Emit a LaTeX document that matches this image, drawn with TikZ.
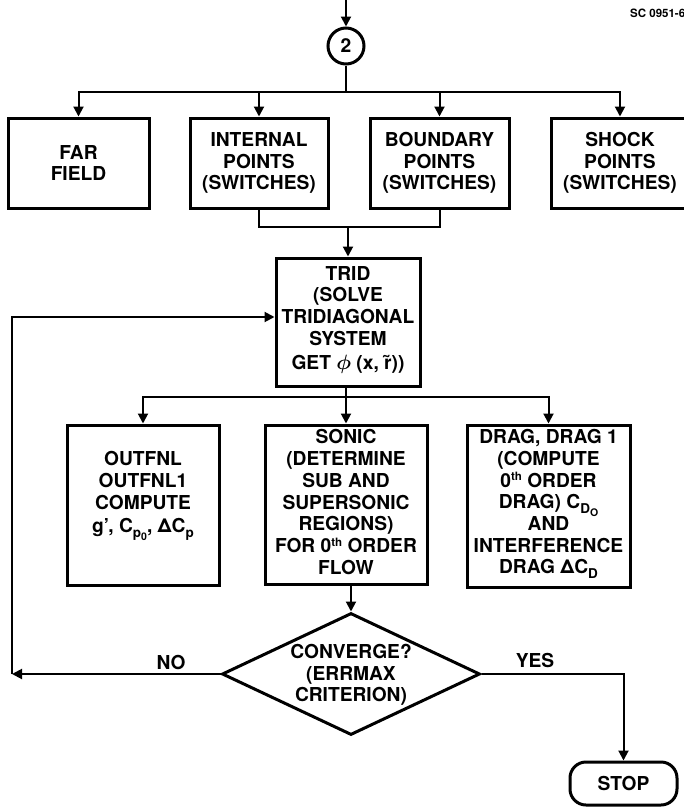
\documentclass[tikz,border=0pt]{standalone}
\usepackage{fontspec}
\setmainfont{TeX Gyre Heros}
\usetikzlibrary{arrows.meta,shapes.geometric}
\newcommand{\flowfont}{\fontsize{19.2}{21.7}\selectfont\bfseries}
\newcommand{\lsub}[1]{\raisebox{-0.45ex}{\fontsize{13.5}{13.5}\selectfont #1}}
\newcommand{\lsubb}[1]{\raisebox{-0.35ex}{\fontsize{10.5}{10.5}\selectfont #1}}
\newcommand{\lsup}[1]{\raisebox{0.6ex}{\fontsize{11.5}{11.5}\selectfont #1}}
\begin{document}
\begin{tikzpicture}[x=1pt,y=-1pt,
  box/.style={draw,line width=3pt,inner sep=0pt,align=center,font=\flowfont,minimum height=90pt},
  txt/.style={align=center,font=\flowfont,inner sep=0pt},
  conn/.style={line width=2pt},
  arr/.style={line width=2pt,-{Triangle[length=10pt,width=10pt]}}]
\useasboundingbox (0,0) rectangle (684,807);
% header
\node[anchor=west,font=\fontsize{11.5}{11.5}\selectfont\bfseries,inner sep=0pt] (sc) at (630,13) {SC 0951-6};
\coordinate (top) at (346,0);
\node[draw,circle,line width=3pt,minimum size=36pt,inner sep=0pt,font=\flowfont] (c2) at (346,46) {2};
\draw[arr] (top) -- (c2);
% first row
\node[box,minimum width=141pt] (far) at (78.5,163) {FAR\\FIELD};
\node[box,minimum width=138pt] (int) at (259,163) {INTERNAL\\POINTS\\(SWITCHES)};
\node[box,minimum width=139pt] (bnd) at (439.5,163) {BOUNDARY\\POINTS\\(SWITCHES)};
\node[box,minimum width=138pt] (shk) at (620,163) {SHOCK\\POINTS\\(SWITCHES)};
\coordinate (s1) at (346,92);
\draw[conn] (c2) -- (s1);
\draw[arr] (s1) -| (far.north);
\draw[arr] (s1) -| (int.north);
\draw[arr] (s1) -| (bnd.north);
\draw[arr] (s1) -| (shk.north);
% TRID
\node[box,minimum width=144pt,minimum height=128pt] (trid) at (348,322) {};
\node[txt] (tridt) at (348,320) {TRID\\(SOLVE\\TRIDIAGONAL\\SYSTEM\\[3pt]GET {\boldmath$\phi$} (x, \~{r}))};
\coordinate (j1) at (348,227);
\draw[conn] (int.south) |- (j1) -| (bnd.south);
\draw[arr] (j1) -- (trid.north);
% second row
\node[box,minimum width=152pt,minimum height=160pt] (out) at (143,505) {};
\node[txt] (outt) at (143,496) {OUTFNL\\OUTFNL1\\COMPUTE\\[2pt]g', C\lsub{p\lsubb{0}}, ΔC\lsub{p}};
\node[box,minimum width=162pt,minimum height=159pt] (son) at (346,504.5) {};
\node[txt] (sont) at (346,502) {SONIC\\(DETERMINE\\SUB AND\\SUPERSONIC\\REGIONS)\\FOR 0\lsup{th} ORDER\\FLOW};
\node[box,minimum width=163pt,minimum height=162pt] (drg) at (548.5,506) {};
\node[txt] (drgt) at (548.5,504) {DRAG, DRAG 1\\(COMPUTE\\0\lsup{th} ORDER\\DRAG) C\lsub{D\lsubb{O}}\\AND\\INTERFERENCE\\DRAG ΔC\lsub{D}};
\coordinate (s2) at (346,397);
\draw[conn] (trid.south -| s2) -- (s2);
\draw[arr] (s2) -- (son.north);
\draw[arr] (s2) -| (out.north);
\draw[arr] (s2) -| (drg.north);
% decision
\node[draw,diamond,line width=3pt,minimum width=258pt,minimum height=122pt,inner sep=0pt] (conv) at (351,674) {};
\node[txt] (convt) at (351,675) {CONVERGE?\\(ERRMAX\\CRITERION)};
\draw[arr] (son.south -| conv.north) -- (conv.north);
% NO loop
\coordinate (lp0) at (12,674);
\coordinate (lp1) at (12,317);
\draw[arr] (conv.west) -- (lp0);
\draw[arr] (lp0) -- (lp1) -- (lp1 -| trid.west);
\node[txt] (no) at (171,662) {NO};
% YES
\node[draw,line width=3pt,rounded corners=16pt,minimum width=107pt,minimum height=43pt,inner sep=0pt,font=\flowfont] (stop) at (623.5,783.5) {STOP};
\draw[arr] (conv.east) -| (stop.north);
\node[txt] (yes) at (535,660) {YES};
\end{tikzpicture}
\end{document}
